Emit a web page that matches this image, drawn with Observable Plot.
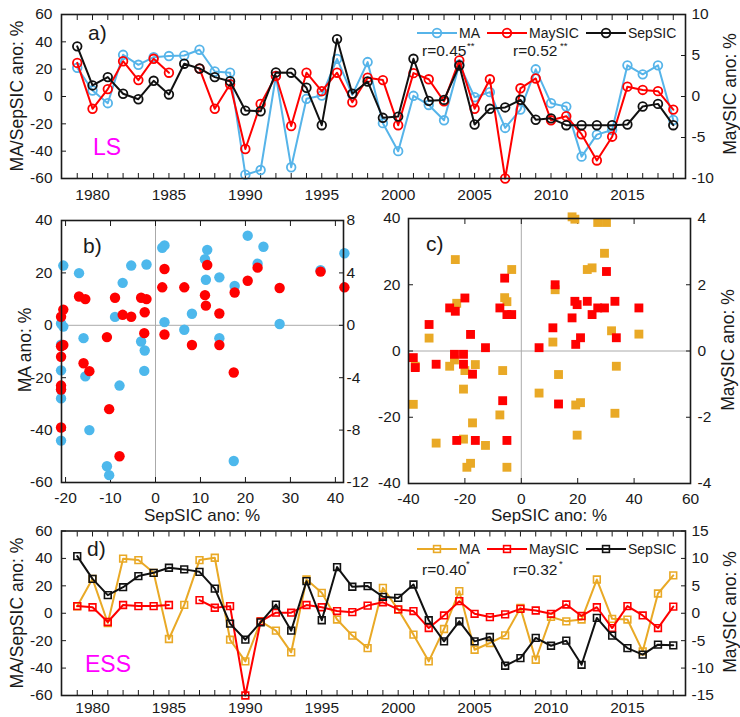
<!DOCTYPE html>
<html><head><meta charset="utf-8">
<script src="https://cdn.jsdelivr.net/npm/d3@7"></script>
<script src="https://cdn.jsdelivr.net/npm/@observablehq/plot@0.6"></script>
<style>
html,body{margin:0;padding:0;background:#fff;overflow:hidden;}
#root{position:relative;width:740px;height:717px;}
</style></head><body><div id="root"></div>
<script>
// ---------- data ----------
const years = [1979,1980,1981,1982,1983,1984,1985,1986,1987,1988,1989,1990,1991,1992,1993,1994,1995,1996,1997,1998,
               1999,2000,2001,2002,2003,2004,2005,2006,2007,2008,2009,2010,2011,2012,2013,2014,2015,2016,2017,2018];
// LS (Laptev Sea) series
const lsMA  = [21,4.4,-4.9,30.5,23.2,28.8,29.6,30,34.2,18.3,17.4,-57.2,-53.8,15,-51.8,-1.7,0.7,27.5,1.2,25.2,
               -19.5,-40,0.5,-6.2,-17.4,23.5,-0.5,3.2,-23,-9.6,19.9,-4.9,-7.4,-44,-27.9,-24.5,22.8,16.2,22.8,-17.2];
const lsMay = [4.1,-1.5,0.9,4.3,2.0,4.6,2.9,null,3.4,-1.5,1.5,-6.4,-0.9,2.5,-3.6,2.9,0.65,2.9,-0.7,2.3,
               2.0,-3.5,2.85,2.1,-0.6,4.4,-1.5,2.1,-10,1.0,2.2,-2.9,-2.4,-4.6,-7.8,-4.9,1.2,0.8,0.65,-1.6];
const lsSep = [36.7,8.1,14.2,2,-2,11.5,1.5,24,20.5,14.2,11.2,-10.3,-10.8,17.6,17.4,6.4,-21,42,2,11,
               -15.6,-14.7,27.6,-3.2,-2.5,22.7,-20.5,-9,-8,-2.4,-17,-16,-21,-21,-21,-21,-20.5,-7.3,-5.4,-21];
// ESS (East Siberian Sea) series
const essMA  = [5.1,25.1,-7.1,39.8,38.8,29.5,-18.8,6.1,38.8,40.5,-19.3,-35.1,-5.9,-12.7,-28.5,24.6,14.9,-4.6,-16.3,-25.4,
                18.5,2.7,-15.6,-35.1,-11.5,16.1,-26.6,-21.7,-16.1,3.9,-33.9,-2.7,-5.9,-4.6,24.6,-4.1,-4.6,-27.8,14.4,27.6];
const essMay = [1.3,1.1,-1.6,1.5,1.3,1.3,1.5,null,2.4,1.0,1.3,-15,-1.5,0.1,0.1,1.5,1.1,0.4,0.2,1.4,
                2.0,0.7,0.4,-2.7,-0.4,2.2,-0.1,-0.7,-0.2,0.8,0.5,-0.1,1.6,-0.5,1.1,-2.7,1.3,-0.4,-2.7,1.2];
const essSep = [41.7,25.1,13.2,19,27.1,29.5,33.2,32,30.2,18,-7.6,-19.3,-6.6,6.3,-12.7,23.4,-5.1,33.7,19.3,19.8,
                12,11.2,21,-5.1,-20.5,-5.9,-20.5,-17.3,-38.3,-32.7,-18,-23.7,-20,-37.6,-3.4,-16.3,-25.4,-30.2,-22.9,-23.4];
// tick labels
const tsLeftTicks = [-60,-40,-20,0,20,40,60];
const aRightTicks = [-10,-5,0,5,10];
const dRightTicks = [-15,-10,-5,0,5,10,15];
const bXTicks = [-20,-10,0,10,20,30,40];
const bYTicks = [-60,-40,-20,0,20,40];
const bRightTicks = [-12,-8,-4,0,4,8];
const cXTicks = [-40,-20,0,20,40,60];
const cYTicks = [-40,-20,0,20,40];
const cRightTicks = [-4,-2,0,2,4];
const labelYears = [1980,1985,1990,1995,2000,2005,2010,2015];
const legendNames = ["MA","MaySIC","SepSIC"];
const corr = {LS: ["r=0.45","r=0.52"], ESS: ["r=0.40","r=0.32"]};

// ---------- styles ----------
const FONT = '"Liberation Sans", Arial, Helvetica, sans-serif';
const BLUE = "#56B4E9", BLUE2 = "#4DB8EC", RED = "#FF0000", BLACK = "#111", ORANGE = "#E9A926", MAG = "#FF00FF";
const root = document.getElementById("root");
const sc = (v, k) => v == null ? null : v * k;

function axes({xTicks, xFmt, xPad, yTicks, yPad, rTicks, rK, rPad}) {
  return [
    Plot.axisX({ticks: xTicks, tickSize: -5, tickPadding: xPad, tickFormat: xFmt, label: null}),
    Plot.axisX({anchor: "top", ticks: xTicks, tickSize: -5, tickFormat: () => "", label: null}),
    Plot.axisY({ticks: yTicks, tickSize: -5, tickPadding: yPad, tickFormat: d => String(d), label: null}),
    Plot.axisY({anchor: "right", ticks: rTicks.map(t => t * rK), tickSize: -5, tickPadding: rPad,
                tickFormat: d => String(Math.round(d / rK)), label: null})
  ];
}
function place(el, left, top) {
  el.style.position = "absolute"; el.style.left = left + "px"; el.style.top = top + "px";
  root.appendChild(el);
}
const baseStyle = {fontFamily: FONT, fontSize: "15.5px", color: "#1a1a1a", background: "transparent", overflow: "visible"};

// ---------- panel a ----------
const lsRows = years.map((yr, i) => ({year: yr, ma: lsMA[i], may: sc(lsMay[i], 6), sep: lsSep[i]}));
const tsX = {domain: [1977.97, 2018.8]};
const panelA = Plot.plot({
  width: 740, height: 205, marginLeft: 61, marginRight: 55, marginTop: 14, marginBottom: 27,
  x: tsX, y: {domain: [-60, 60]}, style: baseStyle,
  marks: [
    ...axes({xTicks: years, xFmt: d => labelYears.includes(d) ? String(d) : "", xPad: 15,
             yTicks: tsLeftTicks, yPad: 14, rTicks: aRightTicks, rK: 6, rPad: 11}),
    Plot.line(lsRows, {x: "year", y: "ma", stroke: BLUE, strokeWidth: 2}),
    Plot.dot(lsRows, {x: "year", y: "ma", r: 4.3, stroke: BLUE, strokeWidth: 1.8, fill: "none"}),
    Plot.line(lsRows, {x: "year", y: "may", stroke: RED, strokeWidth: 2}),
    Plot.dot(lsRows, {x: "year", y: "may", r: 4.3, stroke: RED, strokeWidth: 1.8, fill: "none"}),
    Plot.line(lsRows, {x: "year", y: "sep", stroke: BLACK, strokeWidth: 2}),
    Plot.dot(lsRows, {x: "year", y: "sep", r: 4.3, stroke: BLACK, strokeWidth: 1.8, fill: "none"}),
    Plot.frame({stroke: "#1a1a1a", strokeWidth: 1.6})
  ]
});
place(panelA, 0, 0);

// ---------- panel b ----------
const bRows = years.map((yr, i) => ({sep: lsSep[i], ma: lsMA[i], may: sc(lsMay[i], 5)}));
const panelB = Plot.plot({
  width: 372, height: 330, marginLeft: 61, marginRight: 29, marginTop: 20, marginBottom: 48,
  x: {domain: [-20.9, 41.8]}, y: {domain: [-60, 40]}, style: baseStyle,
  marks: [
    Plot.ruleX([0], {stroke: "#aaa", strokeWidth: 1}),
    Plot.ruleY([0], {stroke: "#aaa", strokeWidth: 1}),
    ...axes({xTicks: bXTicks, xFmt: d => String(d), xPad: 14,
             yTicks: bYTicks, yPad: 14, rTicks: bRightTicks, rK: 5, rPad: 8}),
    Plot.dot(bRows, {x: "sep", y: "ma", r: 5.2, fill: BLUE2}),
    Plot.dot(bRows, {x: "sep", y: "may", r: 5.2, fill: RED}),
    Plot.frame({stroke: "#1a1a1a", strokeWidth: 1.6})
  ]
});
place(panelB, 0, 200);

// ---------- panel c ----------
const cRows = years.map((yr, i) => ({sep: essSep[i], ma: essMA[i], may: sc(essMay[i], 10)}));
const panelC = Plot.plot({
  width: 370, height: 330, marginLeft: 38, marginRight: 50, marginTop: 18, marginBottom: 47,
  x: {domain: [-40, 60]}, y: {domain: [-40, 40]}, style: baseStyle,
  marks: [
    Plot.ruleX([0], {stroke: "#aaa", strokeWidth: 1}),
    Plot.ruleY([0], {stroke: "#aaa", strokeWidth: 1}),
    ...axes({xTicks: cXTicks, xFmt: d => String(d), xPad: 14,
             yTicks: cYTicks, yPad: 13, rTicks: cRightTicks, rK: 10, rPad: 12}),
    Plot.dot(cRows, {x: "sep", y: "ma", r: 5, symbol: "square", fill: ORANGE}),
    Plot.dot(cRows, {x: "sep", y: "may", r: 5, symbol: "square", fill: RED, clip: true}),
    Plot.frame({stroke: "#1a1a1a", strokeWidth: 1.6})
  ]
});
place(panelC, 370, 200);

// ---------- panel d ----------
const essRows = years.map((yr, i) => ({year: yr, ma: essMA[i], may: sc(essMay[i], 4), sep: essSep[i]}));
const panelD = Plot.plot({
  width: 740, height: 202, marginLeft: 61, marginRight: 55, marginTop: 15.5, marginBottom: 22,
  x: tsX, y: {domain: [-60, 60]}, style: baseStyle,
  marks: [
    ...axes({xTicks: years, xFmt: d => labelYears.includes(d) ? String(d) : "", xPad: 11,
             yTicks: tsLeftTicks, yPad: 14, rTicks: dRightTicks, rK: 4, rPad: 11}),
    Plot.line(essRows, {x: "year", y: "ma", stroke: ORANGE, strokeWidth: 2}),
    Plot.dot(essRows, {x: "year", y: "ma", r: 3.8, symbol: "square", stroke: ORANGE, strokeWidth: 1.6, fill: "none"}),
    Plot.line(essRows, {x: "year", y: "may", stroke: RED, strokeWidth: 2}),
    Plot.dot(essRows, {x: "year", y: "may", r: 3.8, symbol: "square", stroke: RED, strokeWidth: 1.6, fill: "none"}),
    Plot.line(essRows, {x: "year", y: "sep", stroke: BLACK, strokeWidth: 2}),
    Plot.dot(essRows, {x: "year", y: "sep", r: 3.8, symbol: "square", stroke: BLACK, strokeWidth: 1.6, fill: "none"}),
    Plot.frame({stroke: "#1a1a1a", strokeWidth: 1.6})
  ]
});
place(panelD, 0, 515);

// ---------- overlay: labels, legends, titles ----------
const ov = d3.select(root).append("svg")
  .attr("width", 740).attr("height", 717)
  .style("position", "absolute").style("left", "0px").style("top", "0px")
  .style("pointer-events", "none").attr("font-family", FONT).attr("fill", "#1a1a1a");

function txt(x, y, s, size, opts = {}) {
  const t = ov.append("text").attr("x", x).attr("y", y).attr("font-size", size).text(s);
  if (opts.fill) t.attr("fill", opts.fill);
  if (opts.anchor) t.attr("text-anchor", opts.anchor);
  return t;
}
function vtitle(x, y, s, size) {
  ov.append("text").attr("transform", `translate(${x},${y}) rotate(-90)`)
    .attr("text-anchor", "middle").attr("font-size", size).text(s);
}
function legend(y, colors, shape) {
  const xs = [417, 487, 586];
  legendNames.forEach((name, i) => {
    const x = xs[i], c = colors[i];
    ov.append("line").attr("x1", x).attr("x2", x + 40).attr("y1", y).attr("y2", y)
      .attr("stroke", c).attr("stroke-width", 2);
    if (shape === "circle")
      ov.append("circle").attr("cx", x + 20).attr("cy", y).attr("r", 4.3)
        .attr("fill", "none").attr("stroke", c).attr("stroke-width", 1.8);
    else
      ov.append("rect").attr("x", x + 16.6).attr("y", y - 3.4).attr("width", 6.8).attr("height", 6.8)
        .attr("fill", "none").attr("stroke", c).attr("stroke-width", 1.6);
    txt(x + 42, y + 5, name, 14);
  });
}

// panel labels
txt(88, 40, "a)", 21);
txt(93, 155, "LS", 23, {fill: MAG});
txt(83, 253, "b)", 21);
txt(426, 251, "c)", 21);
txt(87, 556, "d)", 21);
txt(85, 672, "ESS", 23, {fill: MAG});

// legends + correlations
legend(33, [BLUE, RED, BLACK], "circle");
txt(422, 56, corr.LS[0], 15.5); txt(467, 49, "**", 9.5);
txt(513, 56, corr.LS[1], 15.5); txt(560, 49, "**", 9.5);
legend(549, [ORANGE, RED, BLACK], "square");
txt(422, 575, corr.ESS[0], 15.5); txt(466, 567, "*", 9.5);
txt(513, 575, corr.ESS[1], 15.5); txt(559, 567, "*", 9.5);

// axis titles
vtitle(23, 96, "MA/SepSIC ano: %", 17.5);
vtitle(736, 94, "MaySIC ano: %", 17.5);
vtitle(31, 350, "MA ano: %", 17.5);
vtitle(734, 350, "MaySIC ano: %", 17.5);
vtitle(23, 613, "MA/SepSIC ano: %", 17.5);
vtitle(736, 612, "MaySIC ano: %", 17.5);
txt(202, 521, "SepSIC ano: %", 17, {anchor: "middle"});
txt(549, 521, "SepSIC ano: %", 17, {anchor: "middle"});
</script>
</body></html>
